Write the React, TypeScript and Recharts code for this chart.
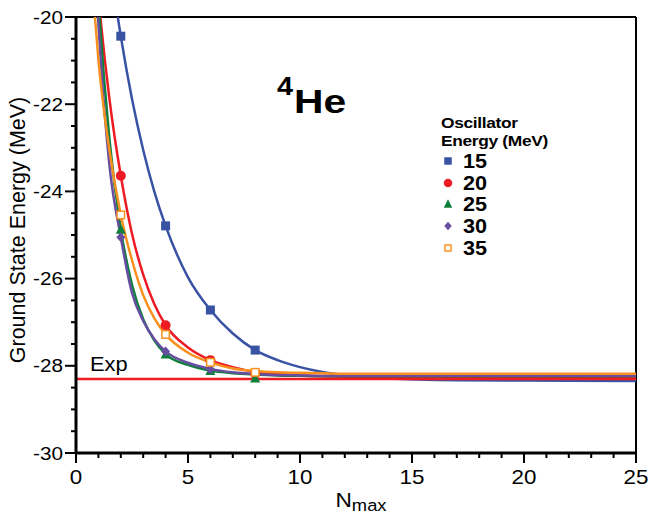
import React from 'react';
import { ComposedChart, Line, Scatter, XAxis, YAxis, ReferenceLine, Legend } from 'recharts';

const FIT_N = [0.8, 1, 1.5, 2, 2.5, 3, 3.5, 4, 5, 6, 7, 8, 9, 10, 11, 12, 14, 17, 20, 25];
const FIT_15 = [-15.55, -16.55, -18.69, -20.44, -21.88, -23.05, -24.01, -24.79, -25.97, -26.72, -27.26, -27.64, -27.87, -28.03, -28.14, -28.21, -28.29, -28.33, -28.34, -28.35];
const FIT_20 = [-18.35, -19.53, -21.91, -23.64, -24.97, -25.91, -26.59, -27.07, -27.58, -27.87, -28.03, -28.14, -28.19, -28.22, -28.24, -28.25, -28.26, -28.27, -28.27, -28.27];
const FIT_25 = [-17.78, -19.6, -22.84, -24.87, -26.14, -26.93, -27.42, -27.73, -27.98, -28.11, -28.17, -28.2, -28.22, -28.23, -28.24, -28.24, -28.24, -28.24, -28.24, -28.24];
const FIT_30 = [-18.23, -20.15, -23.43, -25.05, -26.33, -26.97, -27.39, -27.67, -27.93, -28.07, -28.15, -28.19, -28.21, -28.22, -28.23, -28.23, -28.23, -28.23, -28.23, -28.23];
const FIT_35 = [-19.7, -20.98, -23.08, -24.54, -25.58, -26.38, -26.91, -27.28, -27.7, -27.92, -28.06, -28.12, -28.15, -28.16, -28.17, -28.18, -28.18, -28.18, -28.18, -28.18];

// calculated points
const PTS_N = [2, 4, 6, 8];
const PTS_15 = [-20.44, -24.79, -26.72, -27.64];
const PTS_20 = [-23.64, -27.07, -27.87, -28.18];
const PTS_25 = [-24.87, -27.73, -28.11, -28.28];
const PTS_30 = [-25.05, -27.67, -28.08];
const PTS_35 = [-24.54, -27.28, -27.92, -28.15];

const EXP_ENERGY = -28.3;

const X_TICKS = [0, 1, 2, 3, 4, 5, 6, 7, 8, 9, 10, 11, 12, 13, 14, 15, 16, 17, 18, 19, 20, 21, 22, 23, 24, 25];
const Y_TICKS = [-30, -29.5, -29, -28.5, -28, -27.5, -27, -26.5, -26, -25.5, -25, -24.5, -24, -23.5, -23, -22.5, -22, -21.5, -21, -20.5, -20];

const FONT = '"Liberation Sans", Arial, Helvetica, sans-serif';

type Kind = 'square' | 'circle' | 'triangle' | 'diamond' | 'open';

const SERIES: { name: string; color: string; kind: Kind; fit: number[]; pts: number[] }[] = [
  { name: '15', color: '#3953a4', kind: 'square', fit: FIT_15, pts: PTS_15 },
  { name: '20', color: '#ed1c24', kind: 'circle', fit: FIT_20, pts: PTS_20 },
  { name: '25', color: '#0f7f3d', kind: 'triangle', fit: FIT_25, pts: PTS_25 },
  { name: '30', color: '#674ea0', kind: 'diamond', fit: FIT_30, pts: PTS_30 },
  { name: '35', color: '#f7901e', kind: 'open', fit: FIT_35, pts: PTS_35 },
];

const Marker = ({ cx, cy, kind, color, s }: { cx: number; cy: number; kind: Kind; color: string; s: number }) => {
  const h = s / 2;
  if (kind === 'square') return <rect x={cx - h} y={cy - h} width={s} height={s} fill={color} />;
  if (kind === 'circle') return <circle cx={cx} cy={cy} r={h + 0.5} fill={color} />;
  if (kind === 'triangle')
    return <polygon points={`${cx},${cy - h - 1} ${cx + h + 0.5},${cy + h} ${cx - h - 0.5},${cy + h}`} fill={color} />;
  if (kind === 'diamond')
    return <polygon points={`${cx},${cy - h - 0.5} ${cx + h},${cy} ${cx},${cy + h + 0.5} ${cx - h},${cy}`} fill={color} />;
  return <rect x={cx - h + 0.75} y={cy - h + 0.75} width={s - 1.5} height={s - 1.5} fill="#fff" stroke={color} strokeWidth={1.5} />;
};

// the original lettering is a little wider than Liberation Sans
const WideText = ({ x, y, sx = 1.12, children, ...rest }: any) => (
  <text transform={`translate(${x},${y}) scale(${sx},1)`} x={0} y={0} fontFamily={FONT} fill="#000" {...rest}>
    {children}
  </text>
);

const YTick = (props: any) => {
  const { x, y, payload } = props;
  const v = payload.value;
  const major = Math.abs(v % 2) < 1e-9;
  const len = major ? 11 : 5;
  return (
    <g>
      <line x1={x} y1={y} x2={x - len} y2={y} stroke="#000" strokeWidth={2} />
      {major && (
        <WideText x={x - len - 2} y={y} dy="0.36em" textAnchor="end" fontSize={18.5}>
          {v}
        </WideText>
      )}
    </g>
  );
};

const XTick = (props: any) => {
  const { x, y, payload } = props;
  const v = payload.value;
  const major = v % 5 === 0;
  const len = major ? 10 : 5;
  return (
    <g>
      <line x1={x} y1={y} x2={x} y2={y + len} stroke="#000" strokeWidth={2} />
      {major && (
        <WideText x={x} y={y + 31} textAnchor="middle" fontSize={20}>
          {v}
        </WideText>
      )}
    </g>
  );
};

const YTitle = (props: any) => {
  const { x, y, height } = props.viewBox;
  const cx = x + 25;
  const cy = y + height / 2 - 5;
  return (
    <text x={cx} y={cy} transform={`rotate(-90 ${cx} ${cy})`} textAnchor="middle" fontFamily={FONT} fontSize={21.5} fill="#000">
      Ground State Energy (MeV)
    </text>
  );
};

const XTitle = (props: any) => {
  const { x, y, width } = props.viewBox;
  return (
    <WideText x={x + width / 2 + 5} y={y + 54} textAnchor="middle" fontSize={21} sx={1.08}>
      N<tspan fontSize={17} dy={4}>max</tspan>
    </WideText>
  );
};

const ExpLabel = (props: any) => {
  const { x, y } = props.viewBox;
  return (
    <WideText x={x + 14} y={y - 8} fontSize={19.5}>
      Exp
    </WideText>
  );
};

const titleStyle: React.CSSProperties = {
  fontWeight: 'bold',
  fontSize: 15.5,
  letterSpacing: -0.3,
  lineHeight: '18px',
  whiteSpace: 'nowrap',
  transform: 'scaleX(1.12)',
  transformOrigin: 'left center',
};

const LegendBox = () => (
  <div style={{ fontFamily: FONT, color: '#000', lineHeight: 1 }}>
    <div style={titleStyle}>Oscillator</div>
    <div style={titleStyle}>Energy (MeV)</div>
    {SERIES.map((s) => (
      <div key={s.name} style={{ display: 'flex', alignItems: 'center', height: 21.8 }}>
        <svg width={14} height={14} style={{ marginRight: 8 }}>
          <Marker cx={7} cy={7} kind={s.kind} color={s.color} s={7.5} />
        </svg>
        <span style={{ fontWeight: 'bold', fontSize: 20, display: 'inline-block', transform: 'scaleX(1.08)', transformOrigin: 'left center' }}>
          {s.name}
        </span>
      </div>
    ))}
  </div>
);

export default function App() {
  return (
    <div style={{ position: 'absolute', left: 0, top: 0, width: 650, height: 522, background: '#fff' }}>
      <ComposedChart width={650} height={522} margin={{ top: 17, right: 14, bottom: 0, left: 0 }}>
        <XAxis
          dataKey="n"
          type="number"
          domain={[0, 25]}
          ticks={X_TICKS}
          interval={0}
          allowDataOverflow
          height={69}
          tickSize={0}
          tickMargin={0}
          tick={<XTick />}
          tickLine={false}
          axisLine={{ stroke: '#000', strokeWidth: 3 }}
          label={<XTitle />}
        />
        <YAxis
          dataKey="e"
          type="number"
          domain={[-30, -20]}
          ticks={Y_TICKS}
          interval={0}
          allowDataOverflow
          width={76}
          tickSize={0}
          tickMargin={0}
          tick={<YTick />}
          tickLine={false}
          axisLine={{ stroke: '#000', strokeWidth: 3 }}
          label={<YTitle />}
        />
        <ReferenceLine y={-20} stroke="#000" strokeWidth={2} />
        <ReferenceLine x={25} stroke="#000" strokeWidth={2} />
        {SERIES.map((s) => (
          <Line
            key={`fit-${s.name}`}
            data={FIT_N.map((n, i) => ({ n, e: s.fit[i] }))}
            dataKey="e"
            type="monotone"
            stroke={s.color}
            strokeWidth={2.5}
            dot={false}
            activeDot={false}
            legendType="none"
            isAnimationActive={false}
          />
        ))}
        <ReferenceLine y={EXP_ENERGY} stroke="#ed1c24" strokeWidth={2.5} label={<ExpLabel />} />
        {SERIES.map((s) => (
          <Scatter
            key={`pts-${s.name}`}
            name={s.name}
            data={s.pts.map((e, i) => ({ n: PTS_N[i], e }))}
            dataKey="e"
            fill={s.color}
            shape={(p: any) => <Marker cx={p.cx} cy={p.cy} kind={s.kind} color={s.color} s={9} />}
            isAnimationActive={false}
          />
        ))}
        <WideText x={277} y={95} fontWeight="bold" fontSize={25} sx={1.15}>4</WideText>
        <WideText x={294} y={113} fontWeight="bold" fontSize={34} sx={1.2}>He</WideText>
        <Legend
          layout="vertical"
          align="center"
          verticalAlign="middle"
          content={<LegendBox />}
          wrapperStyle={{ left: 441, top: 114, width: 160, height: 150 }}
        />
      </ComposedChart>
    </div>
  );
}
